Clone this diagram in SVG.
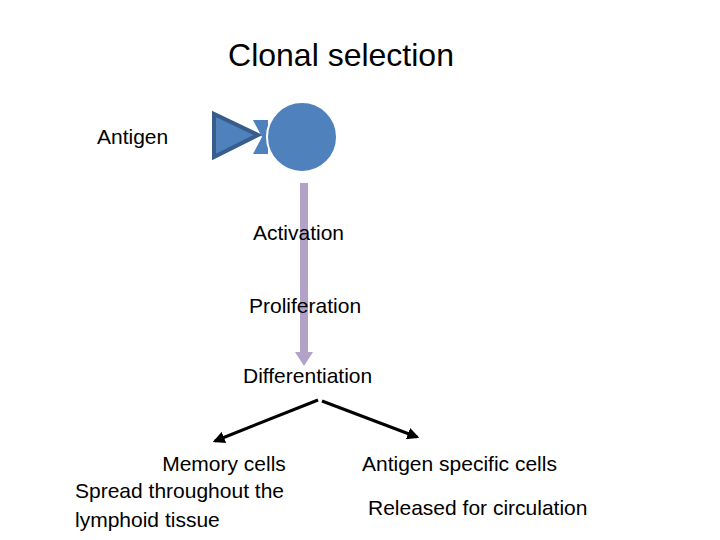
<svg xmlns="http://www.w3.org/2000/svg" width="720" height="540" viewBox="0 0 720 540">
<style>
text{font-family:"Liberation Sans",Arial,sans-serif;fill:#000}
.t{font-size:21px}
.b{fill:#4f81bd}
</style>
<defs><marker id="ah" viewBox="0 0 10 10" refX="8" refY="5" markerWidth="4" markerHeight="4" orient="auto"><path d="M0,0L10,5L0,10z" fill="#000"/></marker></defs>
<rect width="720" height="540" fill="#fff"/>
<text x="341" y="66" font-size="32" text-anchor="middle">Clonal selection</text>
<g id="antigen"><polygon class="b" points="214,114 214,157 258,135" stroke="#385d8a" stroke-width="4"/>
<text class="t" x="97" y="144">Antigen</text></g>
<g id="cell"><polygon class="b" points="253,120 268,120 268,154 253,154 262,137"/>
<circle class="b" cx="302" cy="137" r="35" stroke="#fff" stroke-width="2"/></g>
<g id="connectors">
<path d="M300,183H308V352H313L304,366L295,352H300Z" fill="#b3a2c7"/>
<line x1="318" y1="400" x2="215" y2="441" stroke="#000" stroke-width="3" marker-end="url(#ah)"/>
<line x1="322" y1="401" x2="417" y2="437" stroke="#000" stroke-width="3" marker-end="url(#ah)"/>
</g>
<g id="labels">
<text class="t" x="253" y="240">Activation</text>
<text class="t" x="249" y="313">Proliferation</text>
<text class="t" x="243" y="383">Differentiation</text>
</g>
<g id="memory"><text class="t" x="224" y="471" text-anchor="middle">Memory cells</text>
<text class="t" x="75" y="498">Spread throughout the</text>
<text class="t" x="75" y="527">lymphoid tissue</text></g>
<g id="specific"><text class="t" x="362" y="471">Antigen specific cells</text>
<text class="t" x="368" y="515">Released for circulation</text></g>
</svg>
